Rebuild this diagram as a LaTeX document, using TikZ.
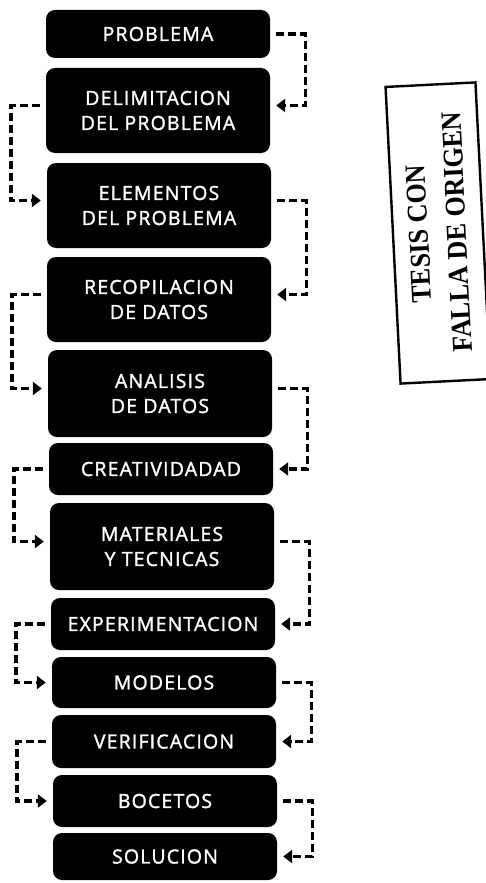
\documentclass[tikz,border=0pt]{standalone}
\usepackage{fontspec}
\newfontfamily\boxfont[LetterSpace=6, FakeBold=1.6]{Open Sans}
\newfontfamily\stampfont{Liberation Serif}
\usetikzlibrary{arrows.meta}

\begin{document}
\begin{tikzpicture}[x=1pt, y=-1pt,
    stepbox/.style={fill=black, text=white, rounded corners=9pt, minimum width=224pt,
      align=center, inner sep=0pt, font=\boxfont\fontsize{19.5}{25}\selectfont},
    link/.style={line width=3.4pt, dash pattern=on 8pt off 4pt,
      -{Triangle[length=9pt, width=13pt]}, shorten <=6pt, shorten >=6pt}]
  \useasboundingbox (0, 0) rectangle (485, 883);

  \node[stepbox, minimum height=48pt] (prob)  at (158, 34)    {PROBLEMA};
  \node[stepbox, minimum height=85pt] (delim) at (158, 110.5) {DELIMITACION\\DEL PROBLEMA};
  \node[stepbox, minimum height=85pt] (elem)  at (159, 205.5) {ELEMENTOS\\DEL PROBLEMA};
  \node[stepbox, minimum height=85pt] (recop) at (159, 299.5) {RECOPILACION\\DE DATOS};
  \node[stepbox, minimum height=87pt] (anal)  at (160, 393.5) {ANALISIS\\DE DATOS};
  \node[stepbox, minimum height=52pt] (creat) at (161, 469)   {CREATIVIDADAD};
  \node[stepbox, minimum height=87pt] (mater) at (162, 546.5) {MATERIALES\\Y TECNICAS};
  \node[stepbox, minimum height=52pt] (exper) at (163, 624)   {EXPERIMENTACION};
  \node[stepbox, minimum height=51pt] (model) at (164, 682.5) {MODELOS};
  \node[stepbox, minimum height=53pt] (verif) at (164, 741.5) {VERIFICACION};
  \node[stepbox, minimum height=52pt] (boce)  at (165, 801)   {BOCETOS};
  \node[stepbox, minimum height=47pt] (solu)  at (165, 856.5) {SOLUCION};

  \draw[link] (prob.east) -- ++(35, 0) |- ([yshift=5pt]delim.east);
  \draw[link] ([yshift=5pt]delim.west) -- ++(-35, 0) |- ([yshift=5pt]elem.west);
  \draw[link] ([yshift=5pt]elem.east) -- ++(35, 0) |- ([yshift=5pt]recop.east);
  \draw[link] ([yshift=5pt]recop.west) -- ++(-35, 0) |- ([yshift=5pt]anal.west);
  \draw[link] ([yshift=5pt]anal.east) -- ++(35, 0) |- (creat.east);
  \draw[link] (creat.west) -- ++(-35, 0) |- ([yshift=5pt]mater.west);
  \draw[link] ([yshift=5pt]mater.east) -- ++(35, 0) |- (exper.east);
  \draw[link] (exper.west) -- ++(-35, 0) |- (model.west);
  \draw[link] (model.east) -- ++(35, 0) |- (verif.east);
  \draw[link] (verif.west) -- ++(-35, 0) |- (boce.west);
  \draw[link] (boce.east) -- ++(35, 0) |- (solu.east);

  \node[draw, line width=2.4pt, rotate=92.9, minimum width=297pt, minimum height=90pt,
    align=center, font=\stampfont\bfseries\fontsize{26}{38}\selectfont] (stamp)
    at (438, 233) {\scalebox{1}[1.1]{TESIS CON}\\\scalebox{1}[1.1]{FALLA DE ORIGEN}};
\end{tikzpicture}
\end{document}
